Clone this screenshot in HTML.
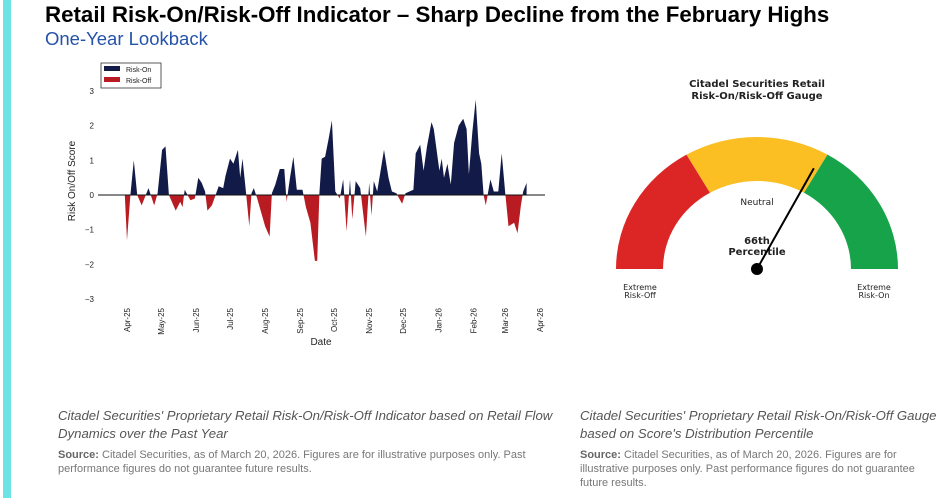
<!DOCTYPE html>
<html><head><meta charset="utf-8"><style>
body{margin:0;width:943px;height:498px;background:#fff;overflow:hidden;position:relative;font-family:"Liberation Sans",sans-serif}
.abs{position:absolute}
.cap{color:#555;font-style:italic;font-size:13.2px;line-height:18px}
.src{color:#777;font-size:11px;line-height:14px}
.src b{color:#666}
</style></head><body>
<div class="abs" style="left:3px;top:0;width:8px;height:498px;background:#6ee3e6"></div>
<div class="abs" style="left:45px;top:2px;font-size:22.3px;font-weight:bold;color:#000;white-space:nowrap">Retail Risk-On/Risk-Off Indicator – Sharp Decline from the February Highs</div>
<div class="abs" style="left:45px;top:28px;font-size:18.5px;color:#2553a8;white-space:nowrap">One-Year Lookback</div>

<svg class="abs" style="left:0;top:0" width="943" height="400">
<g id="chart" font-family="Liberation Sans, DejaVu Sans, sans-serif"></g>
<g id="gauge" font-family="DejaVu Sans, Liberation Sans, sans-serif"></g>
</svg>

<div class="abs cap" style="left:58px;top:407px;width:500px">Citadel Securities' Proprietary Retail Risk-On/Risk-Off Indicator based on Retail Flow Dynamics over the Past Year</div>
<div class="abs src" style="left:58px;top:448px;width:500px"><b>Source:</b> Citadel Securities, as of March 20, 2026. Figures are for illustrative purposes only. Past performance figures do not guarantee future results.</div>
<div class="abs cap" style="left:580px;top:407px;width:362px">Citadel Securities' Proprietary Retail Risk-On/Risk-Off Gauge based on Score's Distribution Percentile</div>
<div class="abs src" style="left:580px;top:448px;width:362px"><b>Source:</b> Citadel Securities, as of March 20, 2026. Figures are for illustrative purposes only. Past performance figures do not guarantee future results.</div>

<script>
const days=[-2,0,3,6,9,13,19,22,24,27,31,34,37,43,47,49,51,56,60,63,66,69,71,75,81,85,87,91,94,98,100,102,105,108,110,112,115,122,126,128,131,135,139,141,144,147,150,155,158,162,166,168,170,172,175,178,181,184,188,191,194,197,199,202,206,211,214,216,218,221,227,231,234,238,243,246,253,255,259,262,265,269,271,276,278,280,283,286,289,293,297,300,302,305,308,311,313,315,317,321,324,328,331,334,337,342,345,348,350,353];
const scores=[0.05,-1.3,0,1.0,0,-0.3,0.2,-0.1,-0.3,0.05,1.3,1.4,0,-0.45,-0.2,-0.35,0.15,-0.15,-0.1,0.5,0.35,0.1,-0.45,-0.3,0.25,0.2,0.55,1.05,0.9,1.3,0.5,1.05,0.1,-0.9,0.05,0.2,-0.1,-0.9,-1.2,0.05,0.3,0.75,0.75,-0.2,0.5,1.1,0.15,0.15,-0.35,-0.8,-1.9,-1.9,0.05,1.05,1.1,1.6,2.15,0.1,-0.1,0.45,-1.05,0.45,-0.7,0.4,0.2,-1.2,0.35,-0.6,0.4,0.1,1.3,0.5,0.1,0.05,-0.25,0.05,0.15,1.2,1.45,0.7,1.4,2.1,1.9,0.7,1.05,0.5,0.9,0.3,1.5,2.0,2.2,1.9,0.6,1.8,2.75,1.2,0.9,0.0,-0.3,0.45,0.1,0.1,1.2,0.1,-0.9,-0.8,-1.1,-0.3,0.1,0.35];
const yTicks=[3,2,1,0,-1,-2,-3];
const monthLabels=["Apr-25","May-25","Jun-25","Jul-25","Aug-25","Sep-25","Oct-25","Nov-25","Dec-25","Jan-26","Feb-26","Mar-26","Apr-26"];
const monthDays=[0,30,61,91,122,153,183,214,244,275,306,334,365];
const gaugePercentile=66;
const gaugeBands=[[0,1/3,"#dc2626"],[1/3,2/3,"#fbbf24"],[2/3,1,"#16a34a"]];

const NS="http://www.w3.org/2000/svg";
function mk(p,t,a){const e=document.createElementNS(NS,t);for(const k in a)e.setAttribute(k,a[k]);p.appendChild(e);return e;}
const X=d=>127+d*1.132, Y=v=>195-v*34.7;
const C=document.getElementById('chart');
const defs=mk(C,'defs',{});
const cpA=mk(defs,'clipPath',{id:'above'});mk(cpA,'rect',{x:0,y:0,width:943,height:195});
const cpB=mk(defs,'clipPath',{id:'below'});mk(cpB,'rect',{x:0,y:195,width:943,height:200});
let d=`M${X(days[0])},${Y(0)}`;
days.forEach((dd,i)=>{d+=` L${X(dd).toFixed(1)},${Y(scores[i]).toFixed(1)}`;});
d+=` L${X(days[days.length-1])},${Y(0)} Z`;
const pa=mk(C,'path',{d:d,fill:'#121a47','clip-path':'url(#above)'});


const pb=mk(C,'path',{d:d,fill:'#b81c22','clip-path':'url(#below)'});


const zl=mk(C,'line',{x1:98,x2:545,y1:Y(0),y2:Y(0),stroke:'#111','stroke-width':1});


yTicks.forEach(v=>{const t=mk(C,'text',{x:94,y:Y(v)+3,'text-anchor':'end','font-size':8,fill:'#222'});t.textContent=(v<0?'−':'')+Math.abs(v);

});
monthLabels.forEach((m,i)=>{const x=X(monthDays[i]);const t=mk(C,'text',{x:0,y:0,'text-anchor':'end','font-size':8,fill:'#222',transform:`translate(${x+3},${308}) rotate(-90)`});t.textContent=m;

});
const xt=mk(C,'text',{x:321,y:345,'text-anchor':'middle','font-size':10,fill:'#222'});xt.textContent='Date';


const yt=mk(C,'text',{x:0,y:0,'text-anchor':'middle','font-size':10,fill:'#222',transform:'translate(75,181) rotate(-90)'});yt.textContent='Risk On/Off Score';


const lg=mk(C,'g',{});


mk(lg,'rect',{x:101,y:63,width:60,height:25,fill:'#fff',stroke:'#333','stroke-width':0.8});
mk(lg,'rect',{x:104,y:66,width:16,height:5,fill:'#121a47'});
mk(lg,'rect',{x:104,y:77,width:16,height:5,fill:'#b81c22'});
const l1=mk(lg,'text',{x:126,y:72,'font-size':7,fill:'#222'});l1.textContent='Risk-On';
const l2=mk(lg,'text',{x:126,y:83,'font-size':7,fill:'#222'});l2.textContent='Risk-Off';

const G=document.getElementById('gauge');
const cx=757,cy=269,Rx=141,Ry=132,rx=94,ry=88;
const pt=(f,ax,ay)=>[cx-ax*Math.cos(f*Math.PI),cy-ay*Math.sin(f*Math.PI)];
gaugeBands.forEach(b=>{const a=pt(b[0],Rx,Ry),c=pt(b[1],Rx,Ry),e=pt(b[1],rx,ry),g=pt(b[0],rx,ry);
const p=mk(G,'path',{d:`M${a} A${Rx},${Ry} 0 0 1 ${c} L${e} A${rx},${ry} 0 0 0 ${g} Z`,fill:b[2]});

});
function tx(x,y,s,w,txt,name){const t=mk(G,'text',{x:x,y:y,'text-anchor':'middle','font-size':s,'font-weight':w,fill:'#222'});t.textContent=txt;

}
tx(757,87,10,'bold','Citadel Securities Retail','gauge-title');
tx(757,99,10,'bold','Risk-On/Risk-Off Gauge','gauge-title');
tx(757,205,9,'normal','Neutral','neutral-label');
tx(757,244,10,'bold','66th','percentile-value');
tx(757,255,10,'bold','Percentile','percentile-label');
tx(640,290,8,'normal','Extreme','extreme-off-label');
tx(640,298,8,'normal','Risk-Off','extreme-off-label');
tx(874,290,8,'normal','Extreme','extreme-on-label');
tx(874,298,8,'normal','Risk-On','extreme-on-label');
const np=pt(gaugePercentile/100,118,115);
const nd=mk(G,'line',{x1:cx,y1:cy,x2:np[0],y2:np[1],stroke:'#000','stroke-width':2});


const hub=mk(G,'circle',{cx:cx,cy:cy,r:6,fill:'#000'});


</script>
</body></html>
